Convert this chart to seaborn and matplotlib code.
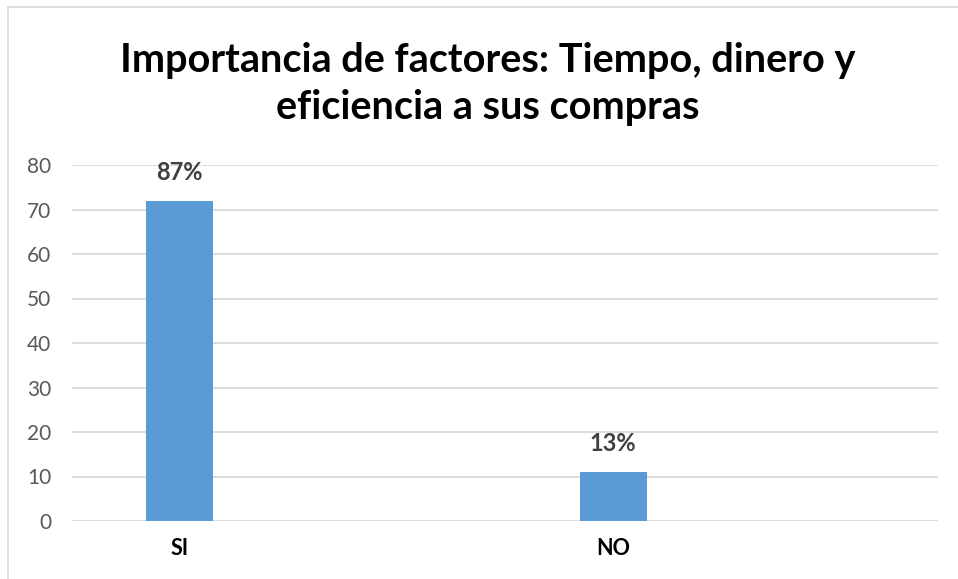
import matplotlib
matplotlib.use("Agg")
import matplotlib.pyplot as plt
import seaborn as sns
import pandas as pd
from matplotlib.lines import Line2D

categories = ["SI", "NO"]
values = [72, 11]
labels = ["87%", "13%"]
title = "Importancia de factores: Tiempo, dinero y\neficiencia a sus compras"

sns.set_theme(style="white")
plt.rcParams['font.family'] = ['Lato', 'DejaVu Sans']

fig = plt.figure(figsize=(9.58, 5.79), dpi=100)
ax = fig.add_axes([72/958, 1-521/579, (938-72)/958, (521-165)/579])

df = pd.DataFrame({"cat": categories, "val": values})
sns.barplot(data=df, x="cat", y="val", ax=ax, color="#5B9BD5", width=0.155,
            saturation=1, edgecolor="none")

ax.set_xlim(-0.249, 1.75)
ax.set_ylim(0, 80)
ax.set_yticks(range(0, 81, 10))
ax.yaxis.grid(True, color="#D9D9D9", linewidth=1.3)
ax.set_axisbelow(True)
for s in ax.spines.values():
    s.set_visible(False)
ax.tick_params(axis="y", length=0, labelsize=15, labelcolor="#595959", pad=15)
ax.tick_params(axis="x", length=0, labelsize=15.5, labelcolor="#000000", pad=12)
for t in ax.get_xticklabels():
    t.set_fontweight("bold")
ax.set_xlabel("")
ax.set_ylabel("")

for i, (v, lab) in enumerate(zip(values, labels)):
    ax.annotate(lab, (i, v), xytext=(0, 12), textcoords="offset points",
                ha="center", va="bottom", fontsize=17, fontweight="bold", color="#404040")

fig.text(488/958, 1-84/579, title, ha="center", va="center", fontsize=28.5,
         fontweight="bold", color="#000000", linespacing=1.33)

fig.add_artist(Line2D([8/958, 1], [1-7/579, 1-7/579], transform=fig.transFigure,
                      color="#D9D9D9", linewidth=1.2))
fig.add_artist(Line2D([8/958, 8/958], [0, 1-7/579], transform=fig.transFigure,
                      color="#D9D9D9", linewidth=1.2))

fig.savefig("out.png", dpi=100, facecolor="white")
